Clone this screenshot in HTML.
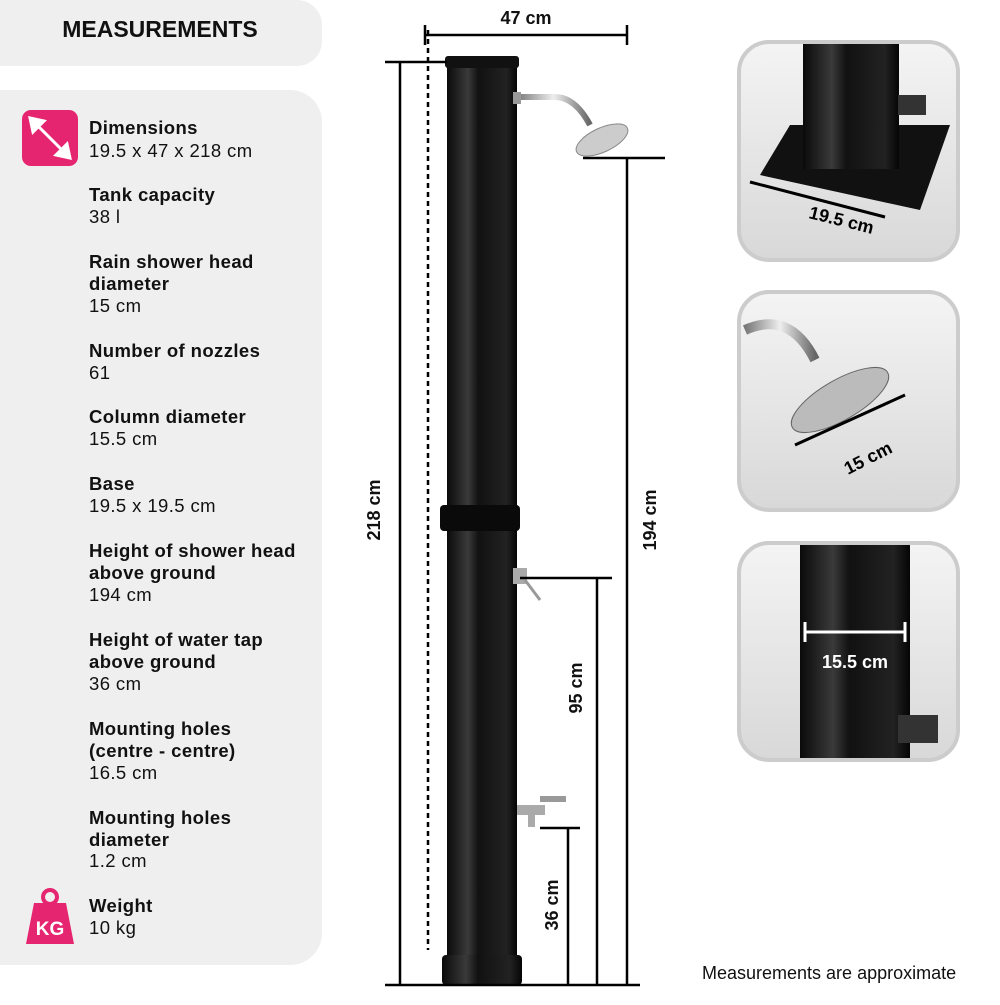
<!DOCTYPE html>
<html><head><meta charset="utf-8"><style>
body{margin:0;width:1000px;height:1000px;background:#fff;overflow:hidden;font-family:"Liberation Sans",sans-serif}
</style></head><body>
<svg width="1000" height="1000" viewBox="0 0 1000 1000" xmlns="http://www.w3.org/2000/svg" font-family="Liberation Sans, sans-serif">
<defs>
<linearGradient id="tube" x1="0" x2="1"><stop offset="0" stop-color="#0a0a0a"/><stop offset="0.3" stop-color="#3a3a3a"/><stop offset="0.45" stop-color="#111"/><stop offset="0.85" stop-color="#222"/><stop offset="1" stop-color="#050505"/></linearGradient>
<linearGradient id="bg" x1="0" x2="0" y1="0" y2="1"><stop offset="0" stop-color="#f4f4f4"/><stop offset="1" stop-color="#d8d8d8"/></linearGradient>
<linearGradient id="chrome" x1="0" x2="1"><stop offset="0" stop-color="#777"/><stop offset="0.5" stop-color="#eee"/><stop offset="1" stop-color="#666"/></linearGradient>
</defs>
<path d="M0 0H297a25 25 0 0 1 25 25V41a25 25 0 0 1 -25 25H0Z" fill="#efefef"/>
<text x="160" y="37" text-anchor="middle" font-size="23" font-weight="bold" fill="#111">MEASUREMENTS</text>
<path d="M0 90H290a32 32 0 0 1 32 32V933a32 32 0 0 1 -32 32H0Z" fill="#efefef"/>
<rect x="22" y="110" width="56" height="56" rx="9" fill="#e5256f"/>
<g stroke="#fff" stroke-width="3" fill="#fff"><line x1="33" y1="121" x2="67" y2="155"/><polygon points="30,118 44,121 33,132"/><polygon points="70,158 56,155 67,144"/></g>
<path d="M34 903h32l8 41h-48z" fill="#e5256f"/><circle cx="50" cy="897" r="7" fill="none" stroke="#e5256f" stroke-width="4"/>
<text x="50" y="935" text-anchor="middle" font-size="19" font-weight="bold" fill="#fff">KG</text>
<g font-size="18.5" fill="#111" letter-spacing="0.4">
<g font-weight="bold">
<text x="89" y="134">Dimensions</text>
<text x="89" y="201">Tank capacity</text>
<text x="89" y="268">Rain shower head</text><text x="89" y="290">diameter</text>
<text x="89" y="357">Number of nozzles</text>
<text x="89" y="423">Column diameter</text>
<text x="89" y="490">Base</text>
<text x="89" y="557">Height of shower head</text><text x="89" y="579">above ground</text>
<text x="89" y="646">Height of water tap</text><text x="89" y="668">above ground</text>
<text x="89" y="735">Mounting holes</text><text x="89" y="757">(centre - centre)</text>
<text x="89" y="824">Mounting holes</text><text x="89" y="846">diameter</text>
<text x="89" y="912">Weight</text>
</g>
<text x="89" y="157">19.5 x 47 x 218 cm</text>
<text x="89" y="223">38 l</text>
<text x="89" y="312">15 cm</text>
<text x="89" y="379">61</text>
<text x="89" y="445">15.5 cm</text>
<text x="89" y="512">19.5 x 19.5 cm</text>
<text x="89" y="601">194 cm</text>
<text x="89" y="690">36 cm</text>
<text x="89" y="779">16.5 cm</text>
<text x="89" y="867">1.2 cm</text>
<text x="89" y="934">10 kg</text>
</g>
<rect x="447" y="58" width="70" height="905" fill="url(#tube)"/>
<rect x="445" y="56" width="74" height="12" rx="3" fill="#111"/>
<rect x="440" y="505" width="80" height="26" rx="4" fill="#0a0a0a"/>
<rect x="442" y="955" width="80" height="30" rx="4" fill="url(#tube)"/>
<path d="M517 97 H555 Q575 97 590 125" stroke="url(#chrome)" stroke-width="6" fill="none"/>
<rect x="513" y="92" width="8" height="12" fill="#999"/>
<ellipse cx="602" cy="140" rx="28" ry="12" transform="rotate(-25 602 140)" fill="#ccc" stroke="#888"/>
<rect x="513" y="568" width="14" height="16" fill="#aaa"/><line x1="525" y1="580" x2="540" y2="600" stroke="#999" stroke-width="3"/>
<rect x="517" y="805" width="28" height="10" fill="#aaa"/><rect x="540" y="796" width="26" height="6" fill="#999"/><rect x="528" y="813" width="7" height="14" fill="#aaa"/>
<g stroke="#000" stroke-width="2.5" fill="none">
<line x1="428" y1="30" x2="428" y2="950" stroke-dasharray="5,4"/>
<line x1="425" y1="35" x2="627" y2="35"/>
<line x1="627" y1="25" x2="627" y2="45"/><line x1="425" y1="25" x2="425" y2="45"/>
<line x1="400" y1="62" x2="400" y2="985"/><line x1="385" y1="62" x2="447" y2="62"/>
<line x1="385" y1="985" x2="640" y2="985"/>
<line x1="627" y1="158" x2="627" y2="985"/><line x1="583" y1="158" x2="665" y2="158"/>
<line x1="597" y1="578" x2="597" y2="985"/><line x1="520" y1="578" x2="612" y2="578"/>
<line x1="568" y1="828" x2="568" y2="985"/><line x1="540" y1="828" x2="580" y2="828"/>
</g>
<g font-size="18" font-weight="bold" fill="#111" text-anchor="middle">
<text x="526" y="24">47 cm</text>
<text transform="translate(380 510) rotate(-90)">218 cm</text>
<text transform="translate(656 520) rotate(-90)">194 cm</text>
<text transform="translate(582 688) rotate(-90)">95 cm</text>
<text transform="translate(558 905) rotate(-90)">36 cm</text>
</g>
<text x="702" y="979" font-size="18" fill="#111">Measurements are approximate</text>
<g stroke="#ccc" stroke-width="4">
<rect x="739" y="42" width="219" height="218" rx="30" fill="url(#bg)"/>
<rect x="739" y="292" width="219" height="218" rx="30" fill="url(#bg)"/>
<rect x="739" y="543" width="219" height="217" rx="30" fill="url(#bg)"/>
</g>
<polygon points="760,175 790,125 950,125 920,210" fill="#111"/>
<rect x="803" y="44" width="96" height="125" fill="url(#tube)"/>
<rect x="898" y="95" width="28" height="20" fill="#333"/>
<line x1="750" y1="182" x2="885" y2="217" stroke="#000" stroke-width="3"/>
<text transform="translate(808 218) rotate(14)" font-size="18" font-weight="bold">19.5 cm</text>
<path d="M745 330 Q790 310 815 360" stroke="url(#chrome)" stroke-width="10" fill="none"/>
<ellipse cx="840" cy="400" rx="55" ry="20" transform="rotate(-30 840 400)" fill="#bbb" stroke="#666"/>
<line x1="795" y1="445" x2="905" y2="395" stroke="#000" stroke-width="3"/>
<text transform="translate(848 475) rotate(-27)" font-size="18" font-weight="bold">15 cm</text>
<rect x="800" y="545" width="110" height="213" fill="url(#tube)"/>
<rect x="898" y="715" width="40" height="28" fill="#333"/>
<line x1="805" y1="632" x2="905" y2="632" stroke="#fff" stroke-width="3"/>
<line x1="805" y1="622" x2="805" y2="642" stroke="#fff" stroke-width="3"/><line x1="905" y1="622" x2="905" y2="642" stroke="#fff" stroke-width="3"/>
<text x="855" y="668" text-anchor="middle" font-size="18" font-weight="bold" fill="#fff">15.5 cm</text>
</svg>
</body></html>
